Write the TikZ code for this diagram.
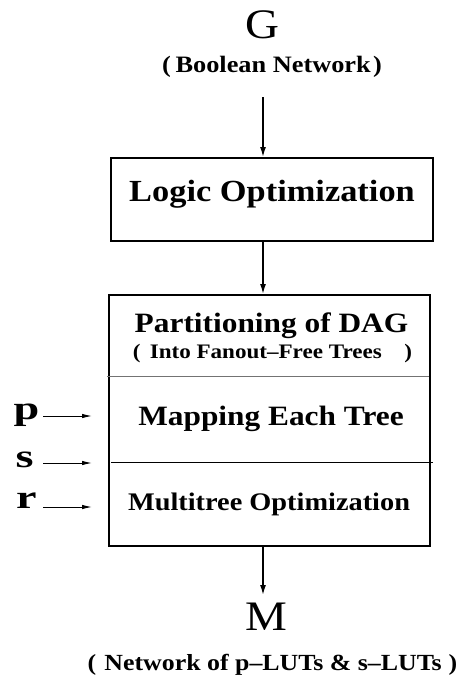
\documentclass[tikz,border=0pt]{standalone}
\usepackage{fontspec}
\setmainfont{Liberation Serif}[FakeStretch=1.12]
\usetikzlibrary{arrows.meta}
\newcommand{\fsz}[1]{\fontsize{#1}{#1}\selectfont}
\newcommand{\wide}[1]{\scalebox{1.25}[1]{#1}}

\begin{document}
\begin{tikzpicture}[x=1pt,y=-1pt,
  lbl/.style={inner sep=0pt, anchor=base},
  stage/.style={draw, line width=2pt, inner sep=0pt},
  flow/.style={line width=1.5pt, -{Latex[length=10pt,width=6pt]}},
  param/.style={line width=1pt, -{Latex[length=10pt,width=4.5pt]}},
  divider/.style={line width=1pt}]

\useasboundingbox (0,0) rectangle (464,677);

% input network
\node[lbl] (G) at (262,38) {\fsz{42}G};
\node[lbl] (Gsub) at (272,72) {\fsz{23.5}\bfseries (\hspace{0.2em}Boolean Network\hspace{0.1em})};

% logic optimization stage
\node[stage, minimum width=322pt, minimum height=83pt] (logic) at (272,199.5) {};
\node[lbl] (logictxt) at (272,201) {\fsz{30.7}\bfseries Logic Optimization};

% mapping stage with its three steps
\node[stage, minimum width=321pt, minimum height=251pt] (core) at (269.5,420.5) {};
\draw[divider, black!55] (107,376) -- (429,376);
\draw[divider] (111,462) -- (433,462);
\node[lbl] (part) at (271.5,332) {\fsz{28}\bfseries Partitioning of DAG};
\node[lbl] (partsub) at (272.5,358) {\fsz{20.6}\bfseries (\hspace{0.45em}Into Fanout--Free Trees\hspace{1.1em})};
\node[lbl] (maptxt) at (271,425) {\fsz{28}\bfseries Mapping Each Tree};
\node[lbl] (multi) at (269,510) {\fsz{25.3}\bfseries Multitree Optimization};

% parameters
\node[lbl] (p) at (26.5,419) {\fsz{33}\bfseries\wide{p}};
\node[lbl] (s) at (24.5,467) {\fsz{33}\bfseries\wide{s}};
\node[lbl] (r) at (26.5,508) {\fsz{33}\bfseries\wide{r}};
\coordinate (pout) at (43,416);
\coordinate (pin) at (92,416);
\coordinate (sout) at (43,463);
\coordinate (sin) at (92,463);
\coordinate (rout) at (43,507);
\coordinate (rin) at (92,507);
\draw[param] (pout) -- (pin);
\draw[param] (sout) -- (sin);
\draw[param] (rout) -- (rin);

% output network
\node[lbl] (M) at (266,630) {\fsz{42}M};
\node[lbl] (Msub) at (272.5,670) {\fsz{23.1}\bfseries (\hspace{0.35em}Network of p--LUTs \& s--LUTs\hspace{0.3em})};

% flow
\coordinate (a1) at (263,97);
\coordinate (a3) at (263,595);
\draw[flow] (a1) -- (a1 |- logic.north);
\draw[flow] (a1 |- logic.south) -- (a1 |- core.north);
\draw[flow] (a1 |- core.south) -- (a3);
\end{tikzpicture}
\end{document}
